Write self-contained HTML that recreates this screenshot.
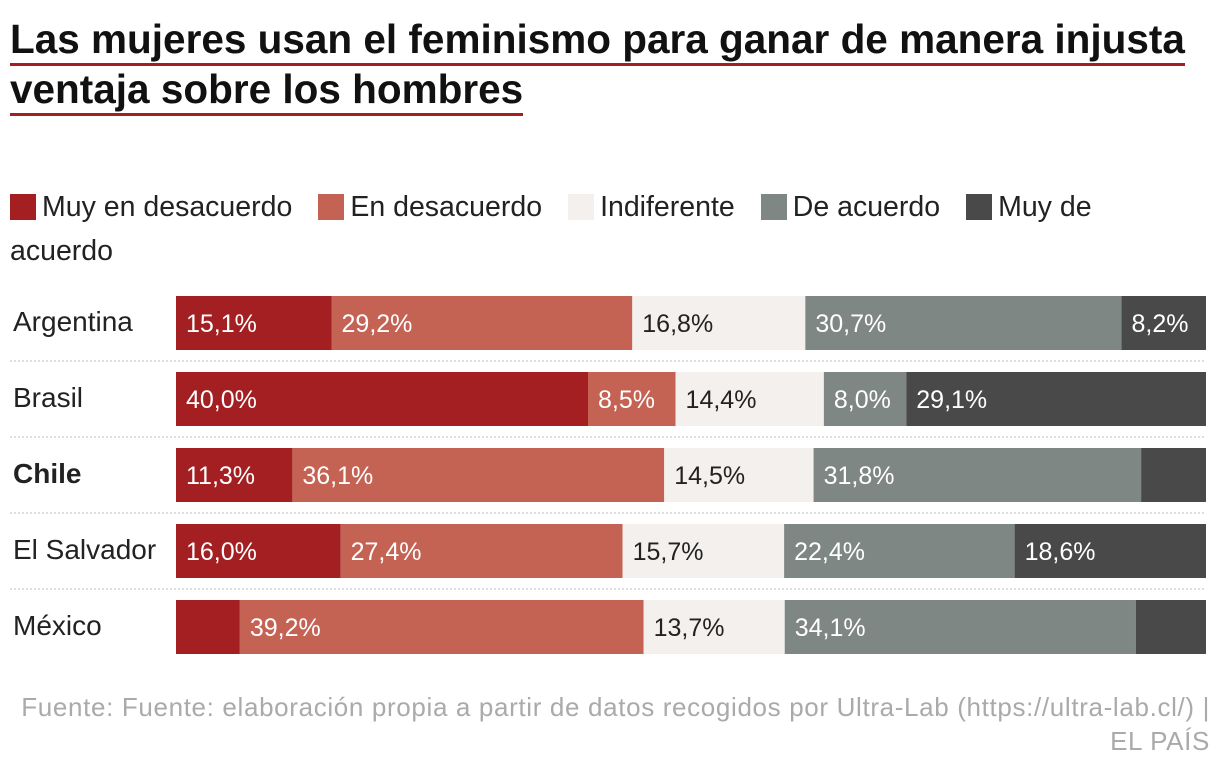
<!DOCTYPE html>
<html><head><meta charset="utf-8"><style>
body{margin:0;width:1220px;height:772px;background:#fff;font-family:"Liberation Sans",sans-serif;position:relative;overflow:hidden}
#title{position:absolute;left:10px;top:14px;width:1205px;font-size:40.5px;font-weight:bold;line-height:50px;color:#111;margin:0;white-space:nowrap}
#title span{border-bottom:3.5px solid #a31f22;padding-bottom:1px}
#legend{position:absolute;left:10px;top:185px;width:1200px;font-size:28.5px;line-height:44px;color:#222}
.li{margin-right:26px}
.sw{display:inline-block;width:26px;height:26px;vertical-align:-4px;margin-right:6px}
#foot{position:absolute;right:10px;top:690px;width:1210px;text-align:right;font-size:26px;letter-spacing:0.65px;line-height:34px;color:#aaa}
</style></head><body>
<h1 id="title"><span>Las mujeres usan el feminismo para ganar de manera injusta</span><br><span>ventaja sobre los hombres</span></h1>
<div id="legend">
<span class="li"><i class="sw" style="background:#a31f22"></i>Muy en desacuerdo</span><span class="li"><i class="sw" style="background:#c46254"></i>En desacuerdo</span><span class="li"><i class="sw" style="background:#f3f0ed"></i>Indiferente</span><span class="li"><i class="sw" style="background:#7f8784"></i>De acuerdo</span><span class="li"><i class="sw" style="background:#494949"></i>Muy de<br>acuerdo</span>
</div>
<svg id="chart" width="1220" height="772" style="position:absolute;left:0;top:0"></svg>
<div id="foot">Fuente: Fuente: elaboración propia a partir de datos recogidos por Ultra-Lab (https://ultra-lab.cl/) |<br>EL PAÍS</div>
<script>
const countries=["Argentina","Brasil","Chile","El Salvador","México"];
const muyDesacuerdo=[15.1,40.0,11.3,16.0,6.2];
const desacuerdo=[29.2,8.5,36.1,27.4,39.2];
const indiferente=[16.8,14.4,14.5,15.7,13.7];
const deAcuerdo=[30.7,8.0,31.8,22.4,34.1];
const muyDeAcuerdo=[8.2,29.1,6.3,18.6,6.8];
const seriesNames=["muy-desacuerdo","desacuerdo","indiferente","de-acuerdo","muy-de-acuerdo"];
const series=[muyDesacuerdo,desacuerdo,indiferente,deAcuerdo,muyDeAcuerdo];
const colors=["#a31f22","#c46254","#f3f0ed","#7f8784","#494949"];
const textColors=["#fff","#fff","#222","#fff","#fff"];
const svg=document.getElementById('chart');const NS='http://www.w3.org/2000/svg';
const x0=176,x1=1206,rowTop=296,rowStep=76,barH=54;
const xs=(v,tot)=>v/tot*(x1-x0);
const yRow=i=>rowTop+i*rowStep;
countries.forEach((c,i)=>{
  const y=yRow(i);
  const t=document.createElementNS(NS,'text');
  
  
  t.setAttribute('x',13);t.setAttribute('y',y+barH/2+8);t.setAttribute('font-size','28');
  t.setAttribute('fill','#222');if(c==="Chile")t.setAttribute('font-weight','bold');
  t.textContent=c;svg.appendChild(t);
  if(i>0){const l=document.createElementNS(NS,'line');
    
    
    l.setAttribute('x1',10);l.setAttribute('x2',1206);l.setAttribute('y1',y-11);l.setAttribute('y2',y-11);
    l.setAttribute('stroke','#bbb');l.setAttribute('stroke-dasharray','2,2');svg.appendChild(l);}
  const tot=series.reduce((s,a)=>s+a[i],0);
  let x=x0;
  series.forEach((arr,k)=>{
    const w=xs(arr[i],tot);
    const r=document.createElementNS(NS,'rect');
    
    
    r.setAttribute('x',x);r.setAttribute('y',y);r.setAttribute('width',w);r.setAttribute('height',barH);
    r.setAttribute('fill',colors[k]);svg.appendChild(r);
    if(arr[i]>=7.5){
      const v=document.createElementNS(NS,'text');
      
      
      v.setAttribute('x',x+10);v.setAttribute('y',y+barH/2+9);v.setAttribute('font-size','25');
      v.setAttribute('fill',textColors[k]);v.textContent=arr[i].toFixed(1).replace('.',',')+'%';
      svg.appendChild(v);}
    x+=w;
  });
});
</script>
</body></html>
